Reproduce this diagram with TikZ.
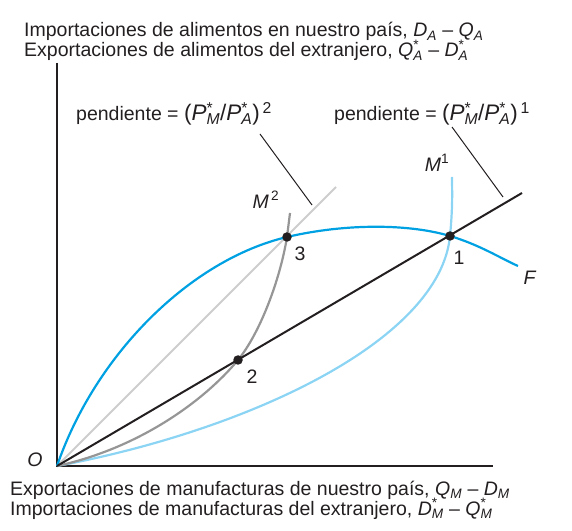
\documentclass[tikz,border=0pt]{standalone}
\usepackage{fontspec}
\setmainfont{Liberation Sans}
\usepackage{xcolor}
\usetikzlibrary{arrows.meta,positioning,calc}

\definecolor{ink}{RGB}{35,31,32}
\definecolor{fcurve}{RGB}{0,161,226}
\definecolor{mone}{RGB}{140,212,244}
\definecolor{mtwo}{RGB}{150,150,150}
\definecolor{slopegray}{RGB}{205,205,205}

% italic variable with superscript above subscript
\newcommand\ivar[3]{\textit{#1}\rlap{\textsuperscript{#2}}\textsubscript{\textit{#3}}}
\newcommand\pricerat[1]{{\fontsize{22.5}{23}\selectfont(\ivar{P}{*}{M}/\ivar{P}{*}{A})\textsuperscript{\,#1}}}

\begin{document}
\begin{tikzpicture}[
    x=1pt, y=1pt,
    font=\fontsize{19.5}{19.5}\selectfont, text=ink,
    axis/.style={draw=ink, line width=2.6pt},
    curve/.style={line width=2.2pt},
    ray/.style={line width=2pt},
    leader/.style={draw=ink, line width=1pt},
    point/.style={circle, fill=ink, inner sep=0pt, minimum size=9.5pt},
    lbl/.style={inner sep=0pt},
    slopelbl/.style={inner sep=0pt, anchor=base west}
  ]
    \useasboundingbox (0,0) rectangle (572,530);

    % axes
    \coordinate (O) at (57,64);
    \coordinate (ytop) at (57,467);
    \coordinate (xend) at (493,64);
    \draw[axis] (ytop) -- (O) -- (xend);

    % equilibria (placed first, drawn on top later)
    \coordinate (e1) at (450,294);
    \coordinate (e2) at (238,170);
    \coordinate (e3) at (287,293);

    % slopes
    \coordinate (s2end) at (336,343);
    \coordinate (s1end) at (522,337);
    \draw[ray, draw=slopegray] (O) -- (s2end);

    % offer curves
    \coordinate (m1top) at (452,353);
    \coordinate (m2top) at (290,317);
    \coordinate (fend) at (518,264);
    \draw[curve, draw=mone] (O) .. controls (250,100) and (440,190) .. (e1)
      .. controls (453,325) and (452,340) .. (m1top);
    \draw[curve, draw=mtwo] (O) .. controls (140,82) and (205,130) .. (e2)
      .. controls (260,197) and (280,250) .. (e3)
      .. controls (289,305) .. (m2top);
    \draw[curve, draw=fcurve] (O) .. controls (95,175) and (190,270) .. (e3)
      .. controls (347,307) and (410,306) .. (e1)
      .. controls (480,285) and (500,272) .. (fend);

    \draw[ray, draw=ink] (O) -- (s1end);

    \node[point] (p1) at (e1) {};
    \node[point] (p2) at (e2) {};
    \node[point] (p3) at (e3) {};
    \node[lbl] (n1) at (459,272) {1};
    \node[lbl] (n2) at (252,153) {2};
    \node[lbl] (n3) at (300,276) {3};

    % curve labels
    \node[lbl] (lo) at (35,70) {\textit{O}};
    \node[lbl] (lf) at (530,252) {\textit{F}};
    \node[lbl] (lm1) at (437,367) {\textit{M}\textsuperscript{1}};
    \node[lbl] (lm2) at (266,330) {\textit{M}\textsuperscript{\,2}};

    % slope labels and leaders
    \node[slopelbl] (sl2) at (76,409) {pendiente = \pricerat{2}};
    \node[slopelbl] (sl1) at (334,409) {pendiente = \pricerat{1}};
    \coordinate (l2a) at (260,396);
    \coordinate (l2b) at (312,325);
    \coordinate (l1a) at (452,403);
    \coordinate (l1b) at (503,333);
    \draw[leader] (l2a) -- (l2b);
    \draw[leader] (l1a) -- (l1b);

    % axis titles
    \node[lbl, anchor=base west] (ytitle) at (24,493)
      {Importaciones de alimentos en nuestro país, \textit{D}\textsubscript{\textit{A}} – \textit{Q}\textsubscript{\textit{A}}};
    \node[lbl, anchor=base west] (ytitle2) at (24,473)
      {Exportaciones de alimentos del extranjero, \ivar{Q}{*}{A} – \ivar{D}{*}{A}};
    \node[lbl, anchor=base west] (xtitle) at (10,35)
      {Exportaciones de manufacturas de nuestro país, \textit{Q}\textsubscript{\textit{M}} – \textit{D}\textsubscript{\textit{M}}};
    \node[lbl, anchor=base west] (xtitle2) at (10,15)
      {Importaciones de manufacturas del extranjero, \ivar{D}{*}{M} – \ivar{Q}{*}{M}};
\end{tikzpicture}
\end{document}
